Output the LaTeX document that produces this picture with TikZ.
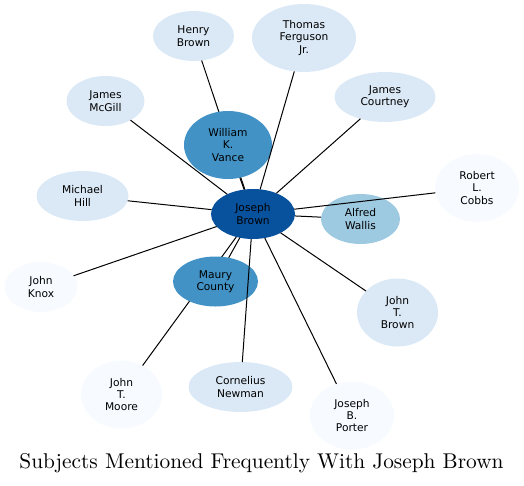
\documentclass[tikz,border=0pt]{standalone}
\usepackage{fontspec}
\usetikzlibrary{shapes.geometric}
\newfontfamily\dejavu{DejaVu Sans}
\definecolor{cdark}{HTML}{08519C}
\definecolor{cmid}{HTML}{4292C6}
\definecolor{clight}{HTML}{9ECAE1}
\definecolor{cpale}{HTML}{DBE9F6}
\definecolor{cwhite}{HTML}{F7FBFF}
\tikzset{
  ent/.style={ellipse, inner sep=0pt, outer sep=0pt, align=center,
    font=\dejavu\fontsize{10.67}{12.4}\selectfont, text=black},
  link/.style={draw=black, line width=1pt},
}
\begin{document}
\begin{tikzpicture}[x=1pt,y=-1pt]
\useasboundingbox (0,0) rectangle (524,485);
% node positions
\path
 (253,214) coordinate (pJB)
 (193.5,36) coordinate (pHB)
 (304,38) coordinate (pTF)
 (105.5,101) coordinate (pJM)
 (385,97) coordinate (pJC)
 (228,145) coordinate (pWKV)
 (82.5,196) coordinate (pMH)
 (41,287) coordinate (pJK)
 (215.5,281.5) coordinate (pMC)
 (360.5,219) coordinate (pAW)
 (477,188) coordinate (pRLC)
 (397.5,312.5) coordinate (pJTB)
 (121.5,394.5) coordinate (pJTM)
 (240.5,387) coordinate (pCN)
 (352,415.5) coordinate (pJBP);
% nodes
\node[ent, fill=cdark, minimum width=84pt, minimum height=50pt] (JB) at (pJB) {Joseph\\Brown};
\node[ent, fill=cpale, minimum width=81pt, minimum height=50pt] (HB) at (pHB) {Henry\\Brown};
\node[ent, fill=cpale, minimum width=104pt, minimum height=68pt] (TF) at (pTF) {Thomas\\Ferguson\\Jr.};
\node[ent, fill=cpale, minimum width=78pt, minimum height=50pt] (JM) at (pJM) {James\\McGill};
\node[ent, fill=cpale, minimum width=101pt, minimum height=50pt] (JC) at (pJC) {James\\Courtney};
\node[ent, fill=cpale, minimum width=92pt, minimum height=50pt] (MH) at (pMH) {Michael\\Hill};
\node[ent, fill=cwhite, minimum width=73pt, minimum height=50pt] (JK) at (pJK) {John\\Knox};
\node[ent, fill=clight, minimum width=79pt, minimum height=50pt] (AW) at (pAW) {Alfred\\Wallis};
\node[ent, fill=cwhite, minimum width=84pt, minimum height=68pt] (RLC) at (pRLC) {Robert\\L.\\Cobbs};
\node[ent, fill=cpale, minimum width=81pt, minimum height=68pt] (JTB) at (pJTB) {John\\T.\\Brown};
\node[ent, fill=cwhite, minimum width=81pt, minimum height=68pt] (JTM) at (pJTM) {John\\T.\\Moore};
\node[ent, fill=cpale, minimum width=104pt, minimum height=50pt] (CN) at (pCN) {Cornelius\\Newman};
\node[ent, fill=cwhite, minimum width=84pt, minimum height=68pt] (JBP) at (pJBP) {Joseph\\B.\\Porter};
% edges that pass beneath other nodes
\draw[link] (HB) -- (JB);
\draw[link] (JTM) -- (JB);
\node[ent, fill=cmid, minimum width=88pt, minimum height=68pt] (WKV) at (pWKV) {William\\K.\\Vance};
\node[ent, fill=cmid, minimum width=85pt, minimum height=50pt] (MC) at (pMC) {Maury\\County};
% edges on top
\draw[link] (WKV) -- (JB);
\draw[link] (MC) -- (JB);
\draw[link] (TF) -- (JB);
\draw[link] (JM) -- (JB);
\draw[link] (JC) -- (JB);
\draw[link] (MH) -- (JB);
\draw[link] (JK) -- (JB);
\draw[link] (AW) -- (JB);
\draw[link] (RLC) -- (JB);
\draw[link] (JTB) -- (JB);
\draw[link] (CN) -- (JB);
\draw[link] (JBP) -- (JB);
% title
\node[anchor=base, font=\fontsize{10}{12}\selectfont, inner sep=0pt] (title) at (261.5,468) {\scalebox{2.135}{Subjects Mentioned Frequently With Joseph Brown}};
\end{tikzpicture}
\end{document}
